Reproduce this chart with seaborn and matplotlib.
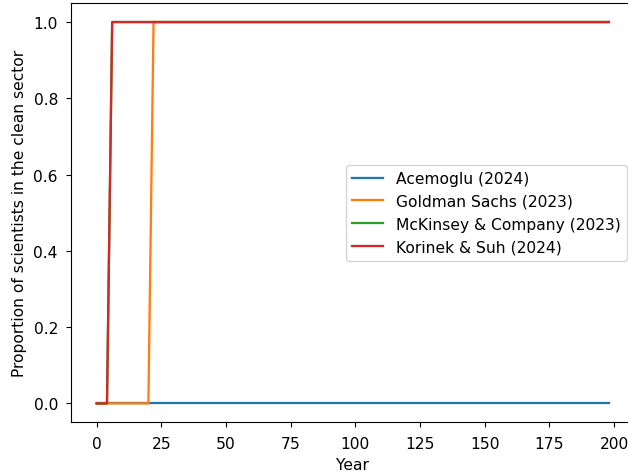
import numpy as np
import pandas as pd
import matplotlib
matplotlib.use('Agg')
import matplotlib.pyplot as plt
import seaborn as sns

# simulation years (every 2 years)
years = list(range(0, 200, 2))

# last year at zero before each scenario switches fully to the clean sector
series_names = ['Acemoglu (2024)', 'Goldman Sachs (2023)',
                'McKinsey & Company (2023)', 'Korinek & Suh (2024)']
switch_after = [None, 20, 4, 4]
colors = ['#1f77b4', '#ff7f0e', '#2ca02c', '#d62728']

rows = []
for name, sw in zip(series_names, switch_after):
    for yr in years:
        share = 0.0 if (sw is None or yr <= sw) else 1.0
        rows.append({'Year': yr, 'share': share, 'source': name})
df = pd.DataFrame(rows)

plt.rcParams['font.size'] = 11.2
plt.rcParams['lines.linewidth'] = 1.65
plt.rcParams['xtick.major.size'] = 3.9
plt.rcParams['ytick.major.size'] = 3.9
plt.rcParams['xtick.major.pad'] = 5.5
plt.rcParams['ytick.major.pad'] = 5.5

fig = plt.figure(figsize=(6.28, 4.77), dpi=100)
ax = fig.add_axes([0.1131, 0.1122, 0.8973, 0.8795])

sns.lineplot(data=df, x='Year', y='share', hue='source',
             hue_order=series_names, palette=colors, linewidth=1.65, ax=ax)

ax.set_xlabel('Year', labelpad=4.5)
ax.set_ylabel('Proportion of scientists in the clean sector', labelpad=5)
ax.set_xticks([0, 25, 50, 75, 100, 125, 150, 175, 200])
ax.legend(loc='center right', title=None)

fig.savefig('out.png', dpi=100)
